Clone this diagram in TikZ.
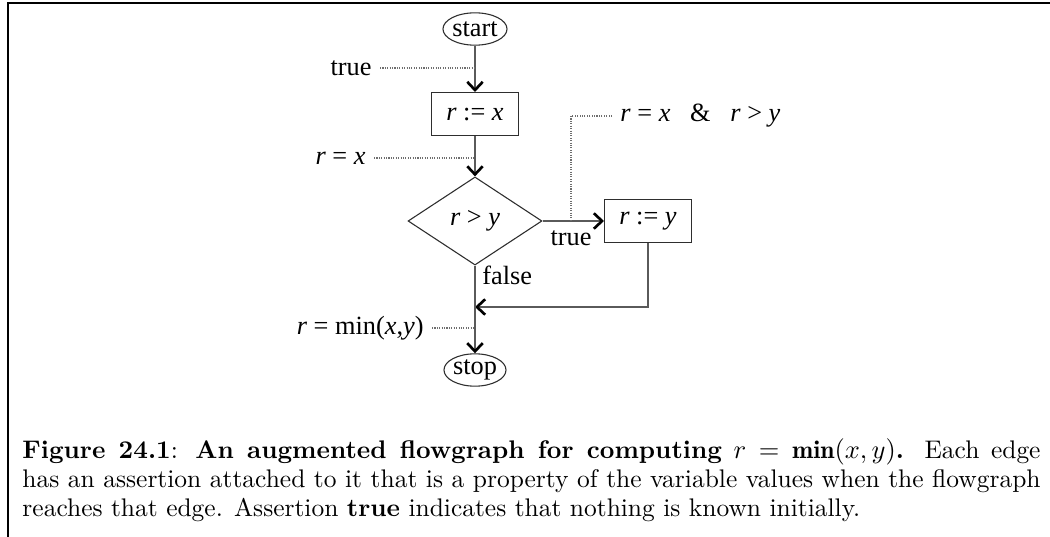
\documentclass[tikz,border=0pt]{standalone}
\usepackage{amsmath,amssymb}
\usepackage{fontspec}
\usetikzlibrary{calc,positioning,arrows.meta,shapes.geometric}
\usepackage{xcolor}
\newfontfamily\flowfont{Liberation Serif}
\definecolor{edgegray}{HTML}{5A5A5A}
\definecolor{notegray}{HTML}{6E6E6E}
\definecolor{boxline}{HTML}{2E2E2E}

\begin{document}
\begin{tikzpicture}[
      x=0.4143pt, y=-0.4143pt,
      every node/.style={font=\flowfont\fontsize{10.9}{12.8}\selectfont, inner sep=0pt},
      term/.style={ellipse, draw=boxline, line width=0.45pt,
                   minimum width=25.5pt, minimum height=13.4pt},
      stmt/.style={rectangle, draw=boxline, line width=0.45pt,
                   minimum width=36pt, minimum height=17.8pt},
      test/.style={diamond, draw=boxline, line width=0.45pt,
                   minimum width=55.5pt, minimum height=36.5pt},
      flow/.style={draw=edgegray, line width=0.55pt,
                   -{Straight Barb[color=black, length=3.4pt, width=6.4pt, line width=1.1pt]}},
      note/.style={draw=notegray, line width=0.45pt, dash pattern=on 0.45pt off 0.55pt},
      asrt/.style={inner sep=3.3pt}
    ]
      \useasboundingbox (0,0) rectangle (1050,537);

      % Frame
      \draw[line width=0.95pt] (8,537) -- (8,3) -- (1050,3);

      % Flowgraph
      \node[term] (start) at (475,29) {start};
      \node[stmt] (setx) at (475,114) {\textit{r} := \textit{x}};
      \node[test] (cmp) at (475,221) {\textit{r} > \textit{y}};
      \node[stmt] (sety) at (648,221) {\textit{r} := \textit{y}};
      \node[term] (stop) at (475,370) {stop};
      \coordinate (join) at (475,307);

      \draw[flow] (start) -- (setx);
      \draw[flow] (setx) -- (cmp);
      \draw[flow] (cmp.east) -- (sety.west);
      \draw[flow] (sety.south) |- (join);
      \draw[flow] (cmp.south) -- (stop);

      \node (tlab) at (571,238) {true};
      \node[anchor=west] (flab) at (482,275) {false};

      % Assertions
      \coordinate (p0) at (475,68);
      \coordinate (p1) at (475,158);
      \coordinate (p2) at (571,221);
      \coordinate (p3) at (475,328);
      \node[asrt, anchor=east] (a0) at (380,68) {true};
      \node[asrt, anchor=east] (a1) at (374,158) {\textit{r} = \textit{x}};
      \node[asrt, anchor=west] (a2) at (612,116)
        {\textit{r} = \textit{x}\hspace{0.75em}\&\hspace{0.75em}\textit{r} > \textit{y}};
      \node[asrt, anchor=east] (a3) at (432,328) {\textit{r} = min(\textit{x},\textit{y})};

      \draw[note] (a0.east) -- (p0);
      \draw[note] (a1.east) -- (p1);
      \draw[note] (a2.west) -| (p2);
      \draw[note] (a3.east) -- (p3);

      % Caption
      \node[anchor=north west, text width=421.8pt, align=justify,
            font=\rmfamily\fontsize{10.55}{12}\selectfont] (cap) at (22,438) {%
        \strut\textbf{Figure 24.1}: \textbf{An augmented flowgraph for computing}
        $r=\mathbf{min}(x,y)$\textbf{.} Each edge\linebreak
        has an assertion attached to it that is a property of the variable values when the flowgraph\linebreak
        reaches that edge. Assertion \textbf{true} indicates that nothing is known initially.};
    \end{tikzpicture}
\end{document}
